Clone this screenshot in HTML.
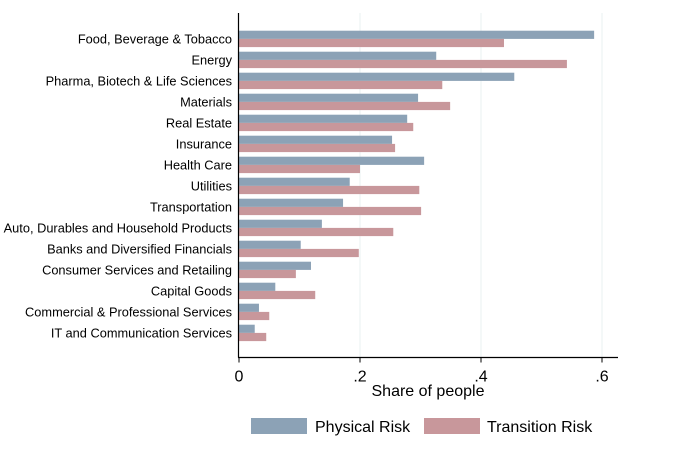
<!DOCTYPE html>
<html><head><meta charset="utf-8"><style>
body{margin:0;background:#fff;}
svg text{font-family:"Liberation Sans",Arial,sans-serif;fill:#000;}
</style></head><body>
<svg width="673" height="450" id="chart"></svg>
<script>
const categories=["Food, Beverage & Tobacco","Energy","Pharma, Biotech & Life Sciences","Materials","Real Estate","Insurance","Health Care","Utilities","Transportation","Auto, Durables and Household Products","Banks and Diversified Financials","Consumer Services and Retailing","Capital Goods","Commercial & Professional Services","IT and Communication Services"];
const physicalRisk=[0.587,0.326,0.455,0.296,0.278,0.253,0.306,0.183,0.172,0.137,0.102,0.119,0.060,0.033,0.026];
const transitionRisk=[0.438,0.542,0.336,0.349,0.288,0.258,0.200,0.298,0.301,0.255,0.198,0.094,0.126,0.050,0.045];
const tickValues=[0,0.2,0.4,0.6];
const tickLabels=["0",".2",".4",".6"];
const NS="http://www.w3.org/2000/svg";
const svg=document.getElementById('chart');
function mk(t,a,p){const e=document.createElementNS(NS,t);for(const k in a)e.setAttribute(k,a[k]);(p||svg).appendChild(e);return e;}
const x0=239,scale=605,top0=30.7,pitch=21,bh=8.2,axisY=357.5;
const xs=v=>x0+v*scale;
const ys=i=>top0+i*pitch;
tickValues.forEach((v,i)=>{
  if(v>0){const g=mk('line',{x1:xs(v),x2:xs(v),y1:13,y2:axisY,stroke:'#eaf0f2','stroke-width':1});
  
  }
  const t=mk('line',{x1:xs(v),x2:xs(v),y1:axisY,y2:axisY+5,stroke:'#000','stroke-width':1});
  
  
  const l=mk('text',{x:xs(v),y:axisY+24,'text-anchor':'middle','font-size':16});
  l.textContent=tickLabels[i];
  
  
});
categories.forEach((c,i)=>{
  const y=ys(i);
  const p=mk('rect',{x:x0,y:y,width:xs(physicalRisk[i])-x0,height:bh,fill:'#8ca2b6'});
  
  
  const tr=mk('rect',{x:x0,y:y+bh,width:xs(transitionRisk[i])-x0,height:bh,fill:'#c8979b'});
  
  
  const t=mk('text',{x:232,y:y+bh+4.5,'text-anchor':'end','font-size':12.8});
  t.textContent=c;
  
  
});
const ya=mk('line',{x1:x0-0.5,x2:x0-0.5,y1:13,y2:axisY,stroke:'#000','stroke-width':1.2});


const xa=mk('line',{x1:x0-1,x2:618,y1:axisY,y2:axisY,stroke:'#000','stroke-width':1.2});


const xt=mk('text',{x:428,y:396,'text-anchor':'middle','font-size':16});
xt.textContent='Share of people';


const s1=mk('rect',{x:251,y:418,width:56,height:16,fill:'#8ca2b6'});


const l1=mk('text',{x:315,y:432,'font-size':16});
l1.textContent='Physical Risk';


const s2=mk('rect',{x:424,y:418,width:56,height:16,fill:'#c8979b'});


const l2=mk('text',{x:487,y:432,'font-size':16});
l2.textContent='Transition Risk';


</script>
</body></html>
